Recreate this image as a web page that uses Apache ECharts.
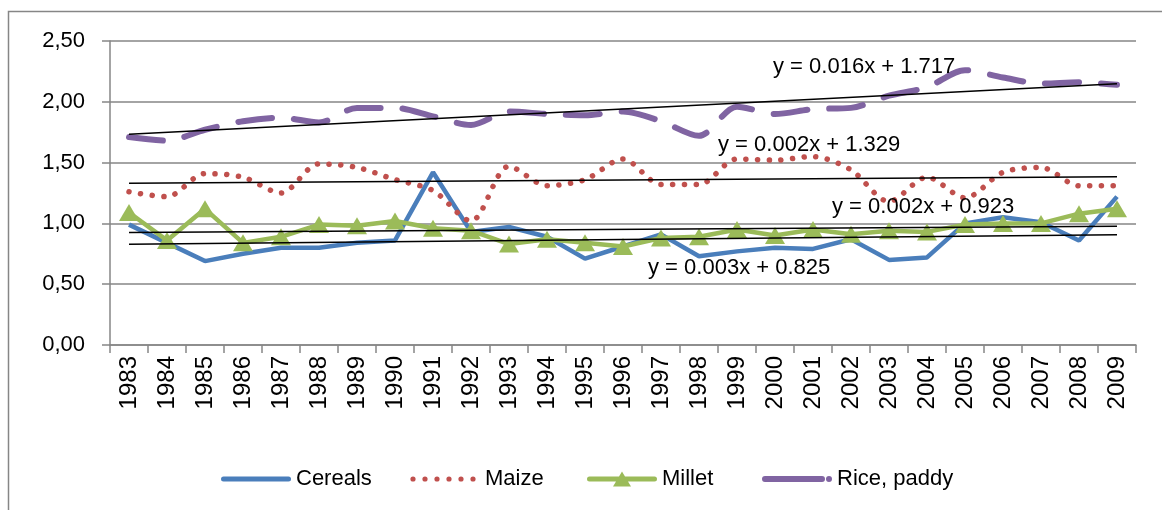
<!DOCTYPE html>
<html>
<head>
<meta charset="utf-8">
<script src="https://cdn.jsdelivr.net/npm/echarts@6/dist/echarts.min.js"></script>
<style>
  html, body { margin:0; padding:0; background:#fff; }
  #plot { width:1162px; height:510px; }
</style>
</head>
<body>
<div id="plot"></div>
<script>
// Data
const years = ['1983','1984','1985','1986','1987','1988','1989','1990','1991','1992','1993','1994','1995','1996','1997','1998','1999','2000','2001','2002','2003','2004','2005','2006','2007','2008','2009'];
const cereals = [0.99, 0.84, 0.69, 0.75, 0.80, 0.80, 0.84, 0.86, 1.42, 0.93, 0.97, 0.89, 0.71, 0.81, 0.91, 0.73, 0.77, 0.80, 0.79, 0.87, 0.70, 0.72, 1.00, 1.05, 1.01, 0.86, 1.22];
const maize   = [1.26, 1.22, 1.41, 1.38, 1.25, 1.49, 1.46, 1.36, 1.27, 1.02, 1.47, 1.31, 1.36, 1.53, 1.32, 1.32, 1.53, 1.52, 1.55, 1.44, 1.18, 1.38, 1.21, 1.42, 1.46, 1.31, 1.31];
const millet  = [1.09, 0.86, 1.12, 0.84, 0.89, 0.99, 0.98, 1.02, 0.96, 0.94, 0.83, 0.87, 0.84, 0.81, 0.88, 0.89, 0.95, 0.90, 0.95, 0.91, 0.94, 0.93, 0.99, 1.00, 1.00, 1.08, 1.12];
const rice    = [1.71, 1.68, 1.77, 1.84, 1.87, 1.83, 1.95, 1.95, 1.88, 1.81, 1.92, 1.90, 1.89, 1.92, 1.84, 1.72, 1.96, 1.90, 1.94, 1.95, 2.05, 2.12, 2.26, 2.20, 2.15, 2.16, 2.14];

// Linear trend lines as printed on the chart (x = 1..27)
const trendNames     = ['Cereals', 'Maize', 'Millet', 'Rice, paddy'];
const trendSlope     = [0.003, 0.002, 0.002, 0.016];
const trendIntercept = [0.825, 1.329, 0.923, 1.717];

// layout: trend label anchors and legend item x positions (px)
const trendLabelPos  = [[648, 268], [718, 145], [832, 207], [773, 67]];
const legendLeft     = [216, 405, 582, 757];

const FONT = '"Liberation Sans", Arial, sans-serif';
const gray = '#868686';
const colors = { 'Cereals':'#4a7ebb', 'Maize':'#c0504d', 'Millet':'#9bbb59', 'Rice, paddy':'#8064a2' };

const el = document.getElementById('plot');
const chart = echarts.init(el, null, { renderer:'canvas' });

// legend icons (70 x 16 box, line centred at y = 8)
const box = 'M0,0L0,0M70,16L70,16';
function pill(x0, x1, h) {
  const r = h / 2, t = 8 - r, b = 8 + r;
  return `M${x0 + r},${t}L${x1 - r},${t}A${r},${r},0,0,1,${x1 - r},${b}L${x0 + r},${b}A${r},${r},0,0,1,${x0 + r},${t}Z`;
}
function dot(cx, r) {
  return `M${cx - r},8A${r},${r},0,1,1,${cx + r},8A${r},${r},0,1,1,${cx - r},8Z`;
}
const icons = {
  'Cereals': 'path://' + box + pill(0, 70, 5),
  'Maize': 'path://' + box + [3, 15, 27, 39, 51, 63].map(x => dot(x, 2.6)).join(''),
  'Millet': 'path://' + box + pill(0, 70, 5) + 'M35,0.5L44,15.5L26,15.5Z',
  'Rice, paddy': 'path://' + box + pill(0, 63, 6) + dot(67, 3)
};

function trendData(k) {
  const n = years.length;
  return years.map((_, i) => (i === 0 || i === n - 1) ? +(trendSlope[k] * (i + 1) + trendIntercept[k]).toFixed(4) : null);
}

const trendSeries = trendNames.map((nm, k) => ({
  type:'line', name:'trend-' + k, data: trendData(k),
  connectNulls:true, symbol:'none', silent:true,
  lineStyle:{ color:'#000', width:1.5 }, z:5
}));

const trendLabels = trendNames.map((nm, k) => ({
  type:'text', x: trendLabelPos[k][0], y: trendLabelPos[k][1], z:10,
  style:{
    text: 'y = ' + trendSlope[k].toFixed(3) + 'x + ' + trendIntercept[k].toFixed(3),
    font: '22px ' + FONT, fill:'#000', verticalAlign:'middle', align:'left'
  }
}));

const legends = trendNames.map((n, k) => ({
  left: legendLeft[k], top:463,
  itemWidth:70, itemHeight:16,
  data: [{ name:n, icon: icons[n], itemStyle:{ color: colors[n], borderWidth:0 } }],
  textStyle:{ fontSize:22, color:'#000', fontFamily: FONT }
}));

chart.setOption({
  backgroundColor:'#fff',
  animation:false,
  textStyle:{ fontFamily: FONT },
  graphic: [
    { type:'rect', z:-1, silent:true,
      shape:{ x:8.5, y:11.5, width:1300, height:700 },
      style:{ fill:'none', stroke:gray, lineWidth:1.5 } },
    ...trendLabels
  ],
  grid:{ left:110, right:26, top:41, bottom:165 },
  legend: legends,
  xAxis:{
    type:'category', data: years, boundaryGap:true,
    axisLine:{ lineStyle:{ color:gray, width:1.5 } },
    axisTick:{ show:true, length:8, lineStyle:{ color:gray, width:1.5 } },
    axisLabel:{ rotate:90, margin:11, fontSize:24, color:'#000', fontFamily: FONT, interval:0 },
    splitLine:{ show:false }
  },
  yAxis:{
    type:'value', min:0, max:2.5, interval:0.5,
    axisLine:{ show:true, lineStyle:{ color:gray, width:1.5 } },
    axisTick:{ show:true, length:8, lineStyle:{ color:gray, width:1.5 } },
    axisLabel:{ margin:25, fontSize:22, color:'#000', fontFamily: FONT,
      formatter: v => v.toFixed(2).replace('.', ',') },
    splitLine:{ show:true, lineStyle:{ color:gray, width:1.5 } }
  },
  series:[
    { type:'line', name:'Cereals', data: cereals, symbol:'none',
      lineStyle:{ color: colors['Cereals'], width:4.5 }, itemStyle:{ color: colors['Cereals'] }, z:2 },
    { type:'line', name:'Maize', data: maize, symbol:'none', smooth:0.3,
      lineStyle:{ color: colors['Maize'], width:5.5, type:[0.1, 11.6], cap:'round' },
      itemStyle:{ color: colors['Maize'] }, z:2 },
    { type:'line', name:'Millet', data: millet, symbol:'triangle', symbolSize:[20, 17],
      showAllSymbol:true,
      lineStyle:{ color: colors['Millet'], width:4.5 }, itemStyle:{ color: colors['Millet'] }, z:2 },
    { type:'line', name:'Rice, paddy', data: rice, symbol:'none', smooth:0.3,
      lineStyle:{ color: colors['Rice, paddy'], width:6, type:[34, 22], cap:'round' },
      itemStyle:{ color: colors['Rice, paddy'] }, z:2 },
    ...trendSeries
  ]
});

window.addEventListener('resize', () => chart.resize(), { passive:true });
</script>
</body>
</html>
